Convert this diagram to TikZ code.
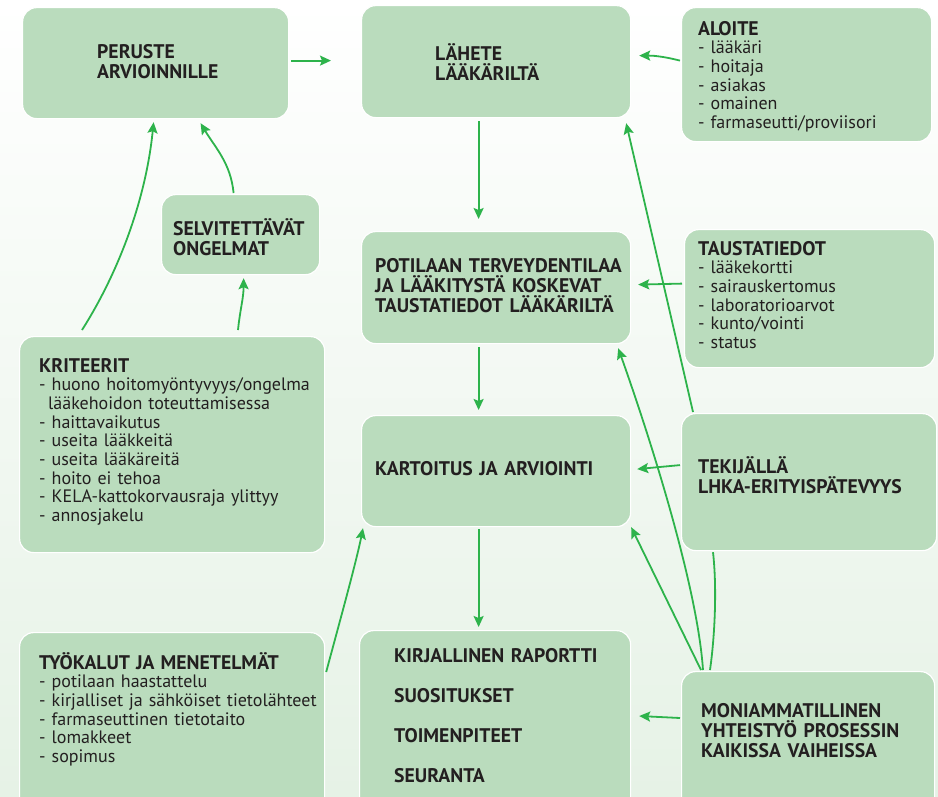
\documentclass[tikz,border=0pt]{standalone}
\usepackage{fontspec}
\setmainfont{PT Sans}
\usetikzlibrary{calc}
\usetikzlibrary{arrows.meta}
\usetikzlibrary{positioning}

\definecolor{boxgreen}{HTML}{BADCBD}
\definecolor{arrowgreen}{HTML}{2DB34B}
\definecolor{bggreen}{HTML}{E6F2E6}
\definecolor{textdark}{HTML}{231F20}

\begin{document}
\begin{tikzpicture}[x=1pt,y=-1pt]
% 1 = 1 pixel of the page, y going down
    \def\TITLEFONT{\fontsize{19.7}{20}\selectfont\bfseries}
    \def\LISTFONT{\fontsize{18}{18.7}\selectfont}
    \def\LISTTITLE{\fontsize{19.7}{18.7}\selectfont\bfseries}
    \def\MIDX{-17.5pt} % x of the middle column arrows

    \tikzset{
      greenbox/.style={fill=boxgreen, draw=white, line width=1.2pt,
        rounded corners=14pt, inner sep=0pt, anchor=north west},
      boxtext/.style={anchor=base west, align=left, inner sep=0pt,
        text=textdark, text width=#1},
      flow/.style={-{Stealth[length=11pt,width=10pt,inset=2pt]},
        line width=1.8pt, color=arrowgreen},
      link/.style={line width=1.8pt, color=arrowgreen},
    }

    % BACKGROUND
    \useasboundingbox (0,0) rectangle (938,796);
    \clip (0,0) rectangle (938,796);
    \shade[top color=white, bottom color=bggreen] (0,0) rectangle (938,796);

    % LEFT COLUMN
    \node[greenbox, minimum width=266pt, minimum height=111pt] (peruste) at (22,7) {};
    \node[boxtext=180pt, font=\TITLEFONT] (perusteText)
        at ($(peruste.north west)+(75,51)$) {PERUSTE\\ARVIOINNILLE};

    \node[greenbox, minimum width=158pt, minimum height=80pt] (selvit) at (161,194) {};
    \node[boxtext=150pt, font=\TITLEFONT] (selvitText)
        at ($(selvit.north west)+(12,41)$) {SELVITETTÄVÄT\\ONGELMAT};

    \node[greenbox, minimum width=305pt, minimum height=216pt] (kriteerit) at (19,336) {};
    \node[boxtext=295pt, font=\LISTFONT] (kriteeritText)
        at ($(kriteerit.north west)+(20,36)$)
        {{\LISTTITLE KRITEERIT}\\
         - huono hoitomyöntyvyys/ongelma\\
         \hspace*{9pt}lääkehoidon toteuttamisessa\\
         - haittavaikutus\\
         - useita lääkkeitä\\
         - useita lääkäreitä\\
         - hoito ei tehoa\\
         - KELA-kattokorvausraja ylittyy\\
         - annosjakelu};

    \node[greenbox, minimum width=305pt, minimum height=190pt] (tyokalut) at (19,632) {};
    \node[boxtext=295pt, font=\LISTFONT] (tyokalutText)
        at ($(tyokalut.north west)+(20,37)$)
        {{\LISTTITLE TYÖKALUT JA MENETELMÄT}\\
         - potilaan haastattelu\\
         - kirjalliset ja sähköiset tietolähteet\\
         - farmaseuttinen tietotaito\\
         - lomakkeet\\
         - sopimus};

    % MIDDLE COLUMN
    \node[greenbox, minimum width=269pt, minimum height=112pt] (lahete) at (361,5) {};
    \node[boxtext=180pt, font=\TITLEFONT] (laheteText)
        at ($(lahete.north west)+(74,55)$) {LÄHETE\\LÄÄKÄRILTÄ};

    \node[greenbox, minimum width=269pt, minimum height=112pt] (potilaan) at (361,231) {};
    \node[boxtext=260pt, font=\TITLEFONT] (potilaanText)
        at ($(potilaan.north west)+(14,41)$)
        {POTILAAN TERVEYDENTILAA\\JA LÄÄKITYSTÄ KOSKEVAT\\TAUSTATIEDOT LÄÄKÄRILTÄ};

    \node[greenbox, minimum width=269pt, minimum height=111pt] (kartoitus) at (361,415) {};
    \node[boxtext=255pt, font=\TITLEFONT] (kartoitusText)
        at ($(kartoitus.north west)+(14,60)$) {KARTOITUS JA ARVIOINTI};

    \node[greenbox, minimum width=271pt, minimum height=190pt] (kirjallinen) at (359,630) {};
    \node[boxtext=235pt, font=\TITLEFONT] (kirjallinenText)
        at ($(kirjallinen.north west)+(35,32)$)
        {KIRJALLINEN RAPORTTI\\[20pt]SUOSITUKSET\\[20pt]TOIMENPITEET\\[20pt]SEURANTA};

    % RIGHT COLUMN
    \node[greenbox, minimum width=250pt, minimum height=134pt] (aloite) at (681,7) {};
    \node[boxtext=230pt, font=\LISTFONT] (aloiteText)
        at ($(aloite.north west)+(17,28)$)
        {{\LISTTITLE ALOITE}\\
         - lääkäri\\
         - hoitaja\\
         - asiakas\\
         - omainen\\
         - farmaseutti/proviisori};

    \node[greenbox, minimum width=250pt, minimum height=138pt] (taustat) at (684,229) {};
    \node[boxtext=230pt, font=\LISTFONT] (taustatText)
        at ($(taustat.north west)+(14,26)$)
        {{\LISTTITLE TAUSTATIEDOT}\\
         - lääkekortti\\
         - sairauskertomus\\
         - laboratorioarvot\\
         - kunto/vointi\\
         - status};

    \node[greenbox, minimum width=255pt, minimum height=137pt] (tekija) at (681,413) {};
    \node[boxtext=238pt, font=\TITLEFONT] (tekijaText)
        at ($(tekija.north west)+(17,60)$) {TEKIJÄLLÄ\\LHKA-ERITYISPÄTEVYYS};

    \node[greenbox, minimum width=253pt, minimum height=190pt] (moni) at (681,671) {};
    \node[boxtext=233pt, font=\TITLEFONT] (moniText)
        at ($(moni.north west)+(20,46)$)
        {MONIAMMATILLINEN\\YHTEISTYÖ PROSESSIN\\KAIKISSA VAIHEISSA};

    % MAIN FLOW DOWN THE MIDDLE
    \draw[flow, shorten <=2pt, shorten >=30pt]
        ([yshift=2.5pt]peruste.east) -- ([yshift=1pt]lahete.west);
    \draw[flow, shorten <=3pt, shorten >=12pt]
        ([xshift=\MIDX]lahete.south) -- ([xshift=\MIDX]potilaan.north);
    \draw[flow, shorten <=3pt, shorten >=5pt]
        ([xshift=\MIDX]potilaan.south) -- ([xshift=\MIDX]kartoitus.north);
    \draw[flow, shorten <=2pt, shorten >=3pt]
        ([xshift=\MIDX]kartoitus.south) -- ([xshift=\MIDX]kartoitus.south |- kirjallinen.north);

    % FROM THE RIGHT
    \draw[flow] ($(aloite.west)+(-1,-14)$)
        .. controls +(-20,-5) and +(12,0) .. ($(lahete.east)+(8,-6)$);
    \draw[flow] ($(taustat.west)+(-2,-15)$) -- ($(potilaan.east)+(7,-3)$);
    \draw[flow] ($(tekija.west)+(-1,-17)$) -- ($(kartoitus.east)+(6,-2)$);
    \draw[flow] ($(moni.north west)+(-1,47)$) -- ($(kirjallinen.north east)+(8,86)$);

    % LONG ONES
    \draw[flow] ($(moni.north west)+(20,-1)$) -- (kartoitus.south east);
    \draw[flow] ($(moni.north west)+(22,-1)$)
        .. controls +(-6,-90) and +(25,70) .. ($(potilaan.south east)+(-13,4)$);
    \draw[link] ($(moni.north west)+(29,-1)$)
        .. controls +(5,-35) and +(4,35) .. ($(tekija.south west)+(32,1)$);
    \draw[flow] ($(tekija.north west)+(12,-1)$) -- ($(lahete.south east)+(-5,5)$);

    % FROM THE LEFT
    \draw[flow] ($(tyokalut.north east)+(1,40)$)
        .. controls +(12,-45) and +(-7,35) .. ($(kartoitus.south west)+(2,1)$);
    \draw[flow] ($(kriteerit.north west)+(63,-6)$)
        .. controls +(35,-55) and +(-8,80) .. ($(peruste.south)+(-2,3)$);
    \draw[flow] ($(kriteerit.north west)+(219,-6)$)
        .. controls +(2,-20) and +(0,20) .. ($(selvit.south)+(3,3)$);
    \draw[flow] ($(selvit.north)+(-7,-1)$)
        .. controls +(-3,-30) and +(15,25) .. ($(peruste.south)+(45,4)$);

\end{tikzpicture}
\end{document}
